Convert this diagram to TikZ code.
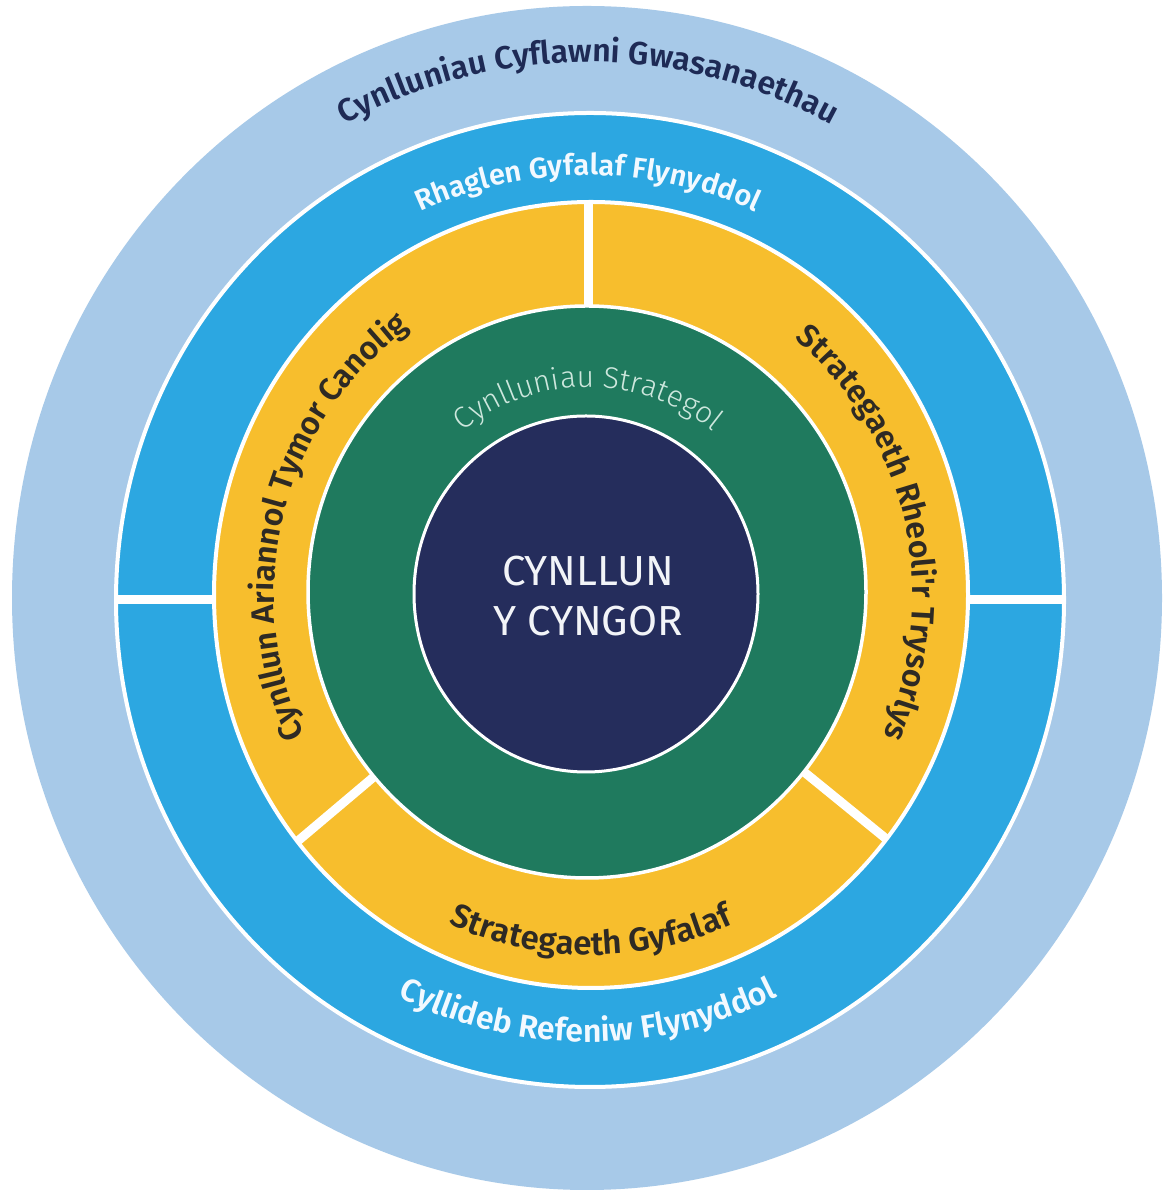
\documentclass[tikz,border=0pt]{standalone}
\usepackage{fontspec}
\setmainfont{Fira Sans}
\newfontfamily\semib{Fira Sans SemiBold}
\newfontfamily\lightf{Fira Sans Light}
\usetikzlibrary{decorations.text,calc}

\definecolor{lightring}{HTML}{A7C9E8}
\definecolor{bluering}{HTML}{2CA7E1}
\definecolor{yellowring}{HTML}{F7BE2D}
\definecolor{greenring}{HTML}{1F7A5E}
\definecolor{navycore}{HTML}{252D5C}
\definecolor{outertext}{HTML}{1E2A55}
\definecolor{yellowtext}{HTML}{2E2A24}
\definecolor{bluetext}{HTML}{F2F9FF}
\definecolor{greentext}{HTML}{CDE7DD}
\definecolor{coretext}{HTML}{F2F4F8}

\tikzset{
  ring/.style={draw=white, line width=#1},
  ring/.default=4pt,
  divider/.style={draw=white, line width=9pt},
  arctext/.style n args={3}{decorate, decoration={text along path,
      text align=center, text color=#1, text={|#2|#3}}},
}

\begin{document}
\begin{tikzpicture}[x=1pt,y=1pt]
\useasboundingbox (0,0) rectangle (1164,1193);
\fill[white] (0,0) rectangle (1164,1193);
\coordinate (C) at (588,597);
\coordinate (Y) at (591,597);

% outermost ring
\fill[lightring] (587,595) ellipse[x radius=575pt, y radius=592pt];

% blue ring and its two horizontal splits
\filldraw[fill=bluering, ring] (590,593) ellipse[x radius=474pt, y radius=487pt];
\coordinate (bl1) at (116,593);
\coordinate (bl2) at (300,593);
\coordinate (br1) at (880,593);
\coordinate (br2) at (1064,593);
\draw[divider] (bl1) -- (bl2);
\draw[divider] (br1) -- (br2);

% yellow ring in three parts
\filldraw[fill=yellowring, ring] (591,598) ellipse[x radius=377pt, y radius=393pt];
\foreach \a/\rx/\ry in {90/378/394, 219/374/390, 322/378/394}
  \draw[divider] (C) -- ($(C)+(\a:\rx pt and \ry pt)$);

% green ring
\filldraw[fill=greenring, ring=3.5pt] (587,601) ellipse[x radius=279pt, y radius=286pt];

% core
\filldraw[fill=navycore, ring=3pt] (586,599) ellipse[x radius=172pt, y radius=178pt];
\node[align=center, text=coretext, font=\fontsize{42}{50}\selectfont] (core) at (588,597)
  {CYNLLUN\\Y CYNGOR};

% ring labels
\path[arctext={outertext}{\semib\fontsize{32}{36}\selectfont}{Cynlluniau Cyflawni Gwasanaethau}]
  ($(C)+(130:518 and 534)$) arc[start angle=130, end angle=50, x radius=518pt, y radius=534pt];

\path[arctext={bluetext}{\semib\fontsize{29}{32}\selectfont}{Rhaglen Gyfalaf Flynyddol}]
  ($(C)+(125:409 and 421)$) arc[start angle=125, end angle=55, x radius=409pt, y radius=421pt];

\path[arctext={bluetext}{\semib\fontsize{32}{34}\selectfont}{Cyllideb Refeniw Flynyddol}]
  ($(C)+(228:433 and 446)$) arc[start angle=228, end angle=312, x radius=433pt, y radius=446pt];

\path[arctext={yellowtext}{\semib\fontsize{32}{34}\selectfont}{Cynllun Ariannol Tymor Canolig}]
  ($(Y)+(217:317 and 327)$) arc[start angle=217, end angle=113, x radius=317pt, y radius=327pt];

\path[arctext={yellowtext}{\semib\fontsize{32}{34}\selectfont}{Strategaeth Rheoli'r Trysorlys}]
  ($(Y)+(66:322 and 332)$) arc[start angle=66, end angle=-40, x radius=322pt, y radius=332pt];

\path[arctext={yellowtext}{\semib\fontsize{33}{35}\selectfont}{Strategaeth Gyfalaf}]
  ($(Y)+(230:348 and 359)$) arc[start angle=230, end angle=310, x radius=348pt, y radius=359pt];

\path[arctext={greentext}{\lightf\fontsize{30}{32}\selectfont}{Cynlluniau Strategol}]
  ($(C)+(140:203 and 209)$) arc[start angle=140, end angle=40, x radius=203pt, y radius=209pt];
\end{tikzpicture}
\end{document}
